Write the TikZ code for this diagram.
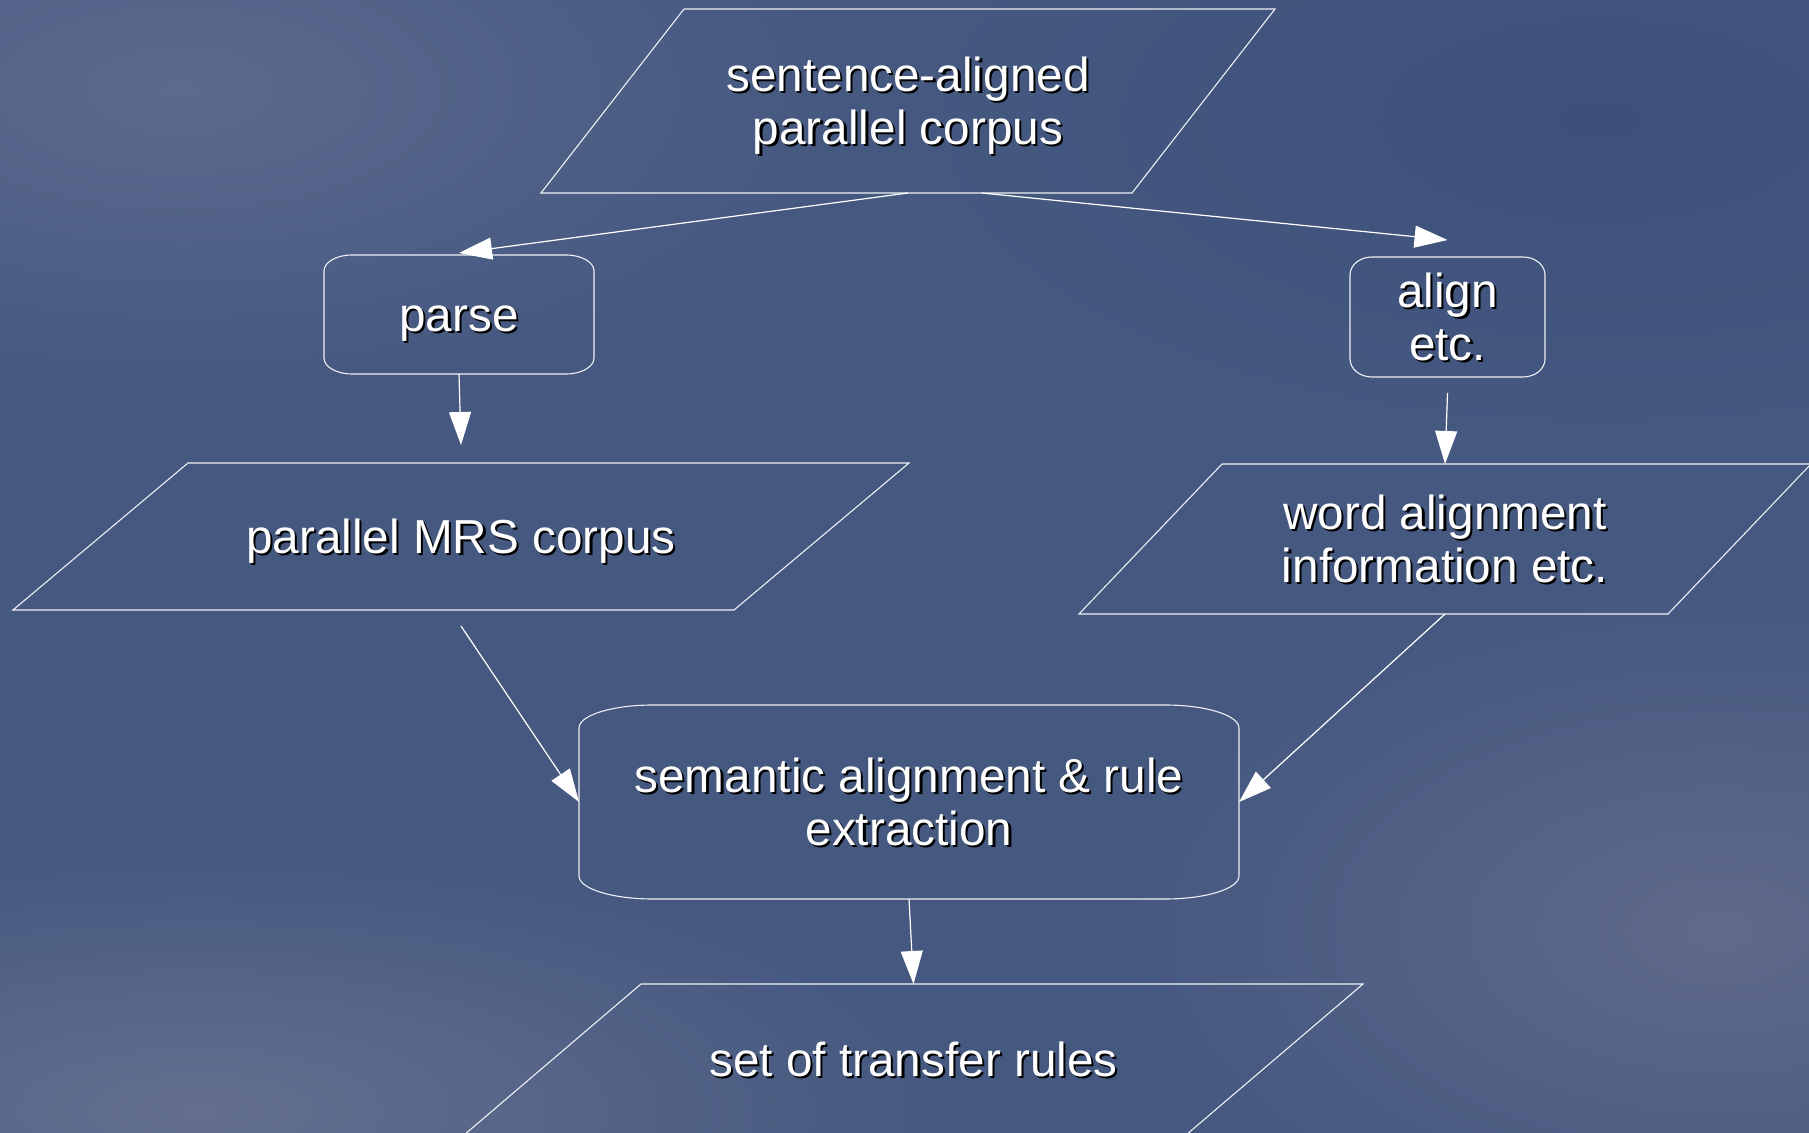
\documentclass[tikz,border=0pt]{standalone}
\usepackage{fontspec}
\setmainfont{Liberation Sans}
\usetikzlibrary{arrows.meta}
\definecolor{bgbase}{RGB}{69,88,128}
\definecolor{bgtl}{RGB}{92,106,142}
\definecolor{bgbl}{RGB}{100,111,142}
\definecolor{bgbr}{RGB}{96,106,138}
\definecolor{bgtr}{RGB}{60,80,122}
\definecolor{lineclr}{RGB}{238,240,246}
\newcommand\shtxt[1]{\leavevmode\rule[-0.2em]{0pt}{1.1em}\rlap{\kern1.1pt\raisebox{-1.1pt}[0pt][0pt]{\textcolor{black}{#1}}}#1}
\newcommand\drawpara[2]{%
  \draw[shapeline] (#1.south west) -- ([xshift=#2]#1.north west) -- (#1.north east) -- ([xshift=-#2]#1.south east) -- cycle;}
\newcommand\drawalt[3]{%
  \draw[shapeline] ([xshift=#2]#1.north west) -- ([xshift=-#2]#1.north east)
    arc[start angle=90,end angle=0,x radius=#2,y radius=#3]
    -- ([yshift=#3]#1.south east)
    arc[start angle=0,end angle=-90,x radius=#2,y radius=#3]
    -- ([xshift=#2]#1.south west)
    arc[start angle=270,end angle=180,x radius=#2,y radius=#3]
    -- ([yshift=-#3]#1.north west)
    arc[start angle=180,end angle=90,x radius=#2,y radius=#3] -- cycle;}
\tikzset{
  boxnode/.style={draw=none, inner sep=0pt, outer sep=0pt, align=center,
    text=white, font=\fontsize{23.85pt}{26.5pt}\selectfont},
  shapeline/.style={draw=lineclr, line width=0.55pt, line join=miter},
  conn/.style={draw=white, line width=0.6pt,
    -{Triangle[length=16.5pt,width=11pt]}, fill=white}
}
\begin{document}
\begin{tikzpicture}[x=0.5pt,y=-0.5pt]
\useasboundingbox (0,0) rectangle (1809,1133);
\begin{scope}
\clip (0,0) rectangle (1809,1133);
\fill[bgbase] (0,0) rectangle (1809,1133);
\shade[inner color=bgtr, outer color=bgbase] (1600,120) ellipse [x radius=350pt, y radius=160pt];
\shade[inner color=bgtl, outer color=bgbase] (180,90) ellipse [x radius=330pt, y radius=150pt];
\shade[inner color=bgbl, outer color=bgbase] (200,1110) ellipse [x radius=380pt, y radius=130pt];
\shade[inner color=bgbr, outer color=bgbase] (1720,930) ellipse [x radius=300pt, y radius=170pt];

% nodes
\node[boxnode, minimum width=367pt, minimum height=92pt] (src) at (908,101)
  {\shtxt{sentence-aligned}\\\shtxt{parallel corpus}};
\node[boxnode, minimum width=135pt, minimum height=59.5pt] (parse) at (459,314.5)
  {\shtxt{parse}};
\node[boxnode, minimum width=97.5pt, minimum height=60pt] (align) at (1447.5,317)
  {\shtxt{align}\\\shtxt{etc.}};
\node[boxnode, minimum width=448pt, minimum height=73.5pt] (mrs) at (461,536.5)
  {\shtxt{parallel MRS corpus}};
\node[boxnode, minimum width=366pt, minimum height=75pt] (word) at (1445,539)
  {\shtxt{word alignment}\\\shtxt{information etc.}};
\node[boxnode, minimum width=330pt, minimum height=97pt] (sem) at (909,802)
  {\shtxt{semantic alignment \& rule}\\\shtxt{extraction}};
\node[boxnode, minimum width=449.5pt, minimum height=75.5pt] (rules) at (913.5,1059.5)
  {\shtxt{set of transfer rules}};

% shapes
\drawpara{src}{71.5pt}
\drawpara{mrs}{87.5pt}
\drawpara{word}{71.5pt}
\drawpara{rules}{88.5pt}
\drawalt{parse}{14pt}{8pt}
\drawalt{align}{11pt}{9pt}
\drawalt{sem}{37pt}{11.5pt}

% connectors
\draw[conn] (src.south) -- ([yshift=1pt]parse.north);
\draw[conn] ([xshift=37pt]src.south) -- ([yshift=8.5pt]align.north);
\draw[conn] (parse.south) -- ([yshift=9pt]mrs.north);
\draw[conn] ([yshift=-8pt]align.south) -- (word.north);
\draw[conn] ([yshift=-8pt]mrs.south) -- (sem.west);
\draw[conn] (word.south) -- (sem.east);
\draw[conn] (sem.south) -- (rules.north);
\end{scope}
\end{tikzpicture}
\end{document}
